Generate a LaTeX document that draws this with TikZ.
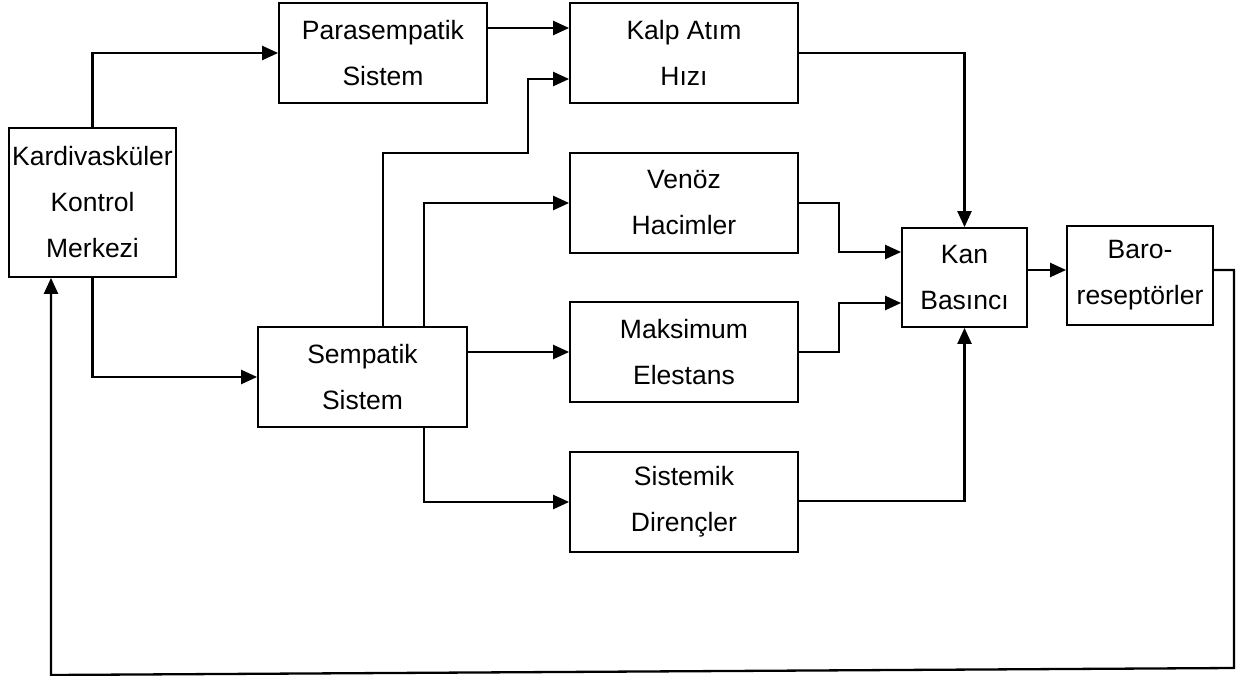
\documentclass[tikz,border=0pt]{standalone}
\usepackage{fontspec}
\setmainfont{Liberation Sans}
\usetikzlibrary{arrows.meta,calc}
\tikzset{
  blk/.style={draw, line width=1.8pt, inner sep=0pt, align=center,
    font=\fontsize{26.5}{46}\selectfont},
  conn/.style={line width=2.3pt, -{Triangle[length=16pt,width=14pt]}},
}
\begin{document}
\begin{tikzpicture}[x=1pt,y=-1pt]
\path[use as bounding box, fill=white] (0,0) rectangle (1236,676);
% boxes
\node[blk, minimum width=167pt, minimum height=149pt] (kcm) at (92.5,202.5) {Kardivasküler\\Kontrol\\Merkezi};
\node[blk, minimum width=208pt, minimum height=100pt] (para) at (383,53) {Parasempatik\\Sistem};
\node[blk, minimum width=228pt, minimum height=100pt] (kalp) at (684,53) {Kalp Atım\\Hızı};
\node[blk, minimum width=228pt, minimum height=100pt] (venoz) at (684,203) {Venöz\\Hacimler};
\node[blk, minimum width=228pt, minimum height=100pt] (maks) at (684,352) {Maksimum\\Elestans};
\node[blk, minimum width=228pt, minimum height=100pt] (sist) at (684,502) {Sistemik\\Dirençler};
\node[blk, minimum width=209pt, minimum height=100pt] (symp) at (362.5,377) {Sempatik\\Sistem};
\node[blk, minimum width=125pt, minimum height=99pt] (kan) at (964.5,277.5) {Kan\\Basıncı};
\node[blk, minimum width=146pt, minimum height=99pt] (baro) at (1140,275.5) {Baro-\\reseptörler};
% helper coordinates
\coordinate (fbR) at (1234,668);
\coordinate (fbL) at (51,675);
% connectors
\draw[conn] (kcm.north) |- (para.west);
\draw[conn] (kcm.south) |- (symp.west);
\draw[conn] (para.east |- 0,28) -- (kalp.west |- 0,28);
\draw[conn] (383,327) -- (383,153) -- (528,153) -- (528,79) -- (kalp.west |- 0,79);
\draw[conn] (424,327) |- (venoz.west);
\draw[conn] (symp.east |- maks.west) -- (maks.west);
\draw[conn] (424,427) |- (sist.west);
\draw[conn] (kalp.east) -| (kan.north);
\draw[conn] (venoz.east) -- (839,203) -- (839,252) -- (kan.west |- 0,252);
\draw[conn] (maks.east) -- (839,352) -- (839,303) -- (kan.west |- 0,303);
\draw[conn] (sist.east |- 0,501) -| (kan.south);
\draw[conn] (kan.east |- 0,270) -- (baro.west |- 0,270);
\draw[conn] (baro.east |- 0,270) -- (1234,270) -- (fbR) -- (fbL) -- (kcm.south -| fbL);
\end{tikzpicture}
\end{document}
